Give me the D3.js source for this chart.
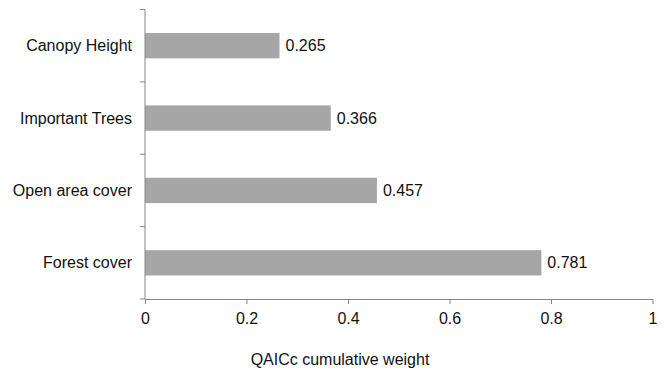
<!DOCTYPE html>
<html><head><meta charset="utf-8">
<script src="https://cdn.jsdelivr.net/npm/d3@7"></script>
<style>body{margin:0;background:#fff;} text{font-family:"Liberation Sans",Arial,sans-serif;}</style>
</head><body>
<svg id="c" width="664" height="374"></svg>
<script>
const categories = ["Canopy Height", "Important Trees", "Open area cover", "Forest cover"];
const values = [0.265, 0.366, 0.457, 0.781];
const xTicks = [0, 0.2, 0.4, 0.6, 0.8, 1];
const xTitle = "QAICc cumulative weight";

(function () {
const svg = d3.select("#c");
const mLeft = 145, mRight = 652.5, mTop = 9.5, mBottom = 299;
const x = d3.scaleLinear().domain([0, 1]).range([mLeft, mRight]);
const y = d3.scaleBand().domain(categories).range([mTop, mBottom]).paddingInner(0.65).paddingOuter(0.325);
const axisColor = "#868686";

svg.selectAll("rect.bar").data(categories).enter().append("rect")
  .attr("x", x(0)).attr("y", d => y(d))
  .attr("width", (d, i) => x(values[i]) - x(0))
  .attr("height", y.bandwidth())
  .attr("fill", "#a6a6a6");

svg.selectAll("text.val").data(categories).enter().append("text")
  .attr("x", (d, i) => x(values[i]) + 6)
  .attr("y", d => y(d) + y.bandwidth() / 2)
  .attr("dy", "0.35em")
  .attr("font-size", 16).attr("fill", "#111")
  .text((d, i) => values[i].toFixed(3));

const xa = svg.append("g").attr("transform", `translate(0,${mBottom})`)
  .call(d3.axisBottom(x).tickValues(xTicks).tickFormat(d3.format("")).tickSizeInner(5).tickSizeOuter(0).tickPadding(9));
xa.select(".domain").attr("stroke", axisColor);
xa.selectAll(".tick line").attr("stroke", axisColor);
xa.selectAll(".tick text").attr("font-size", 16).attr("fill", "#111").attr("font-family", '"Liberation Sans",Arial,sans-serif');

const ya = svg.append("g").attr("transform", `translate(${mLeft},0)`);
ya.append("line").attr("x1", 0).attr("x2", 0).attr("y1", mTop).attr("y2", mBottom).attr("stroke", axisColor);
const bounds = d3.range(categories.length + 1).map(i => mTop + i * (mBottom - mTop) / categories.length);
ya.selectAll("line.tk").data(bounds).enter().append("line")
  .attr("x1", -5).attr("x2", 0).attr("y1", d => d).attr("y2", d => d).attr("stroke", axisColor);
ya.selectAll("text.cat").data(categories).enter().append("text")
  .attr("x", -13).attr("y", d => y(d) + y.bandwidth() / 2).attr("dy", "0.35em")
  .attr("text-anchor", "end").attr("font-size", 16).attr("fill", "#111")
  .text(d => d);

svg.append("text").attr("x", 340).attr("y", 365)
  .attr("text-anchor", "middle").attr("font-size", 16).attr("fill", "#111").text(xTitle);
})();
</script>
</body></html>
